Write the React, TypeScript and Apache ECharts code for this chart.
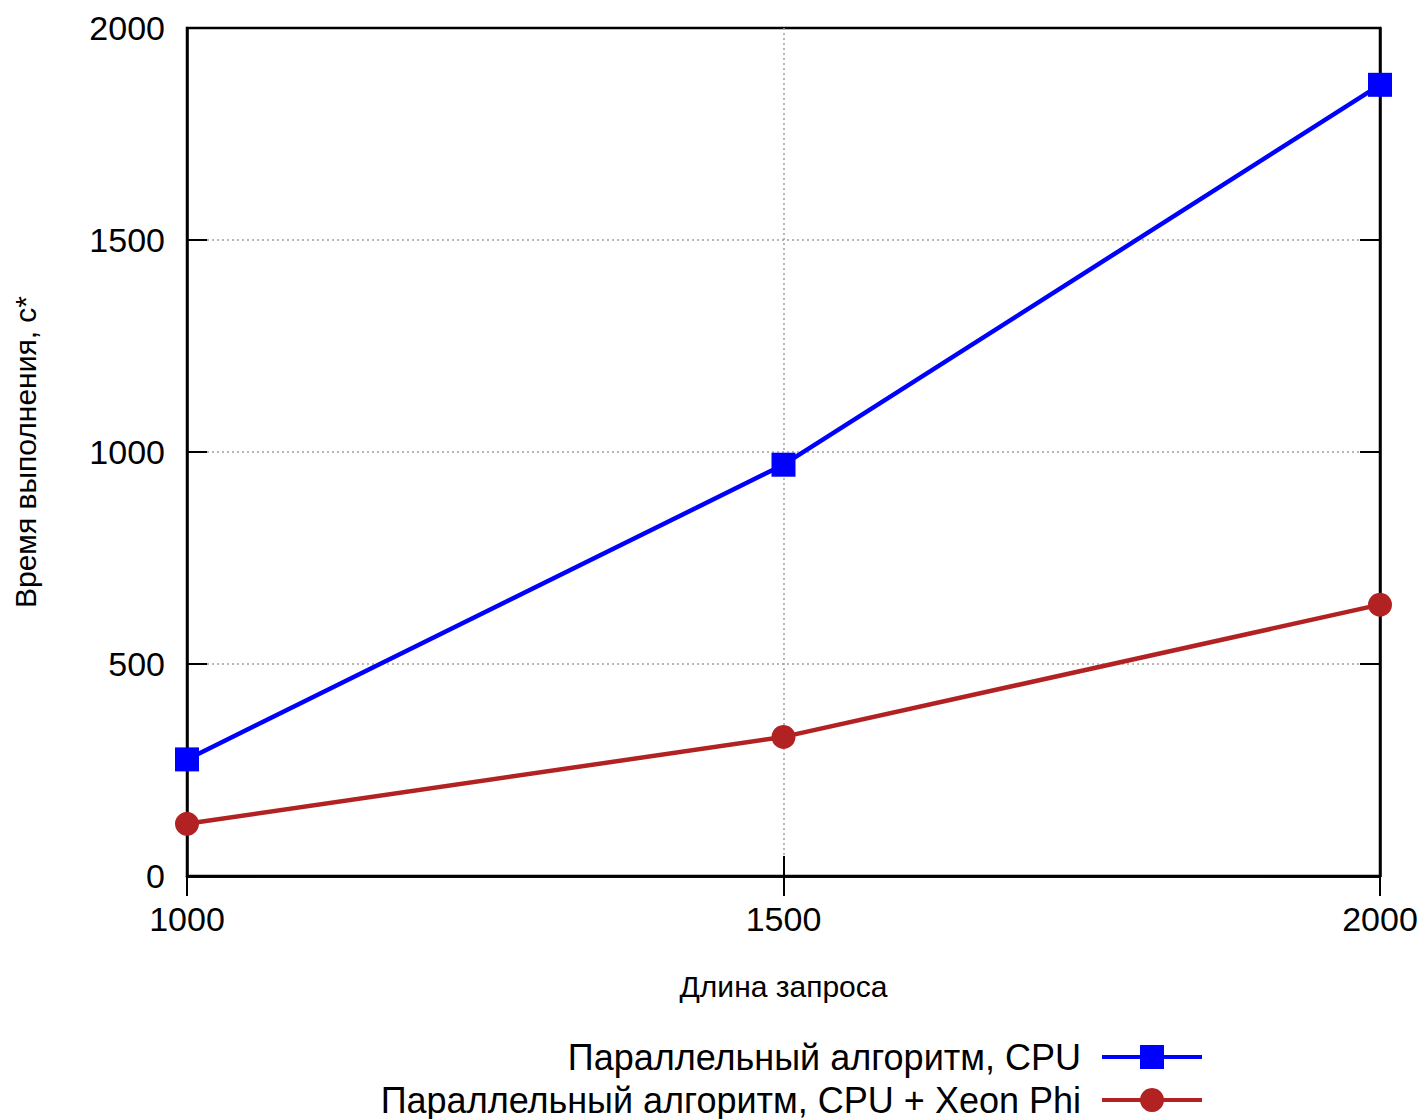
import React, { useEffect, useRef } from "react";
import * as echarts from "echarts";

const queryLengths = [1000, 1500, 2000];
const cpuTimes = [275, 970, 1866];
const cpuPhiTimes = [123, 328, 640];
const seriesNames = ["Параллельный алгоритм, CPU", "Параллельный алгоритм, CPU + Xeon Phi"];
const xTitle = "Длина запроса";
const yTitle = "Время выполнения, с*";

const FONT = "'Liberation Sans', Arial, sans-serif";

export default function App() {
  const ref = useRef<HTMLDivElement>(null);
  useEffect(() => {
    if (!ref.current) return;
    const chart = echarts.init(ref.current, undefined, { renderer: "svg" });
    const gridLine = {
      show: true, showMinLine: false, showMaxLine: false,
      lineStyle: { color: "#a0a0a0", width: 1.5, type: [2, 3] as any },
    };
    const tickIn = { show: true, inside: true, length: 20, lineStyle: { color: "#000", width: 2 } };
    const legendBase = {
      right: 219, align: "right", orient: "horizontal", padding: 0,
      itemWidth: 100, itemHeight: 30, itemGap: 0,
      lineStyle: { width: 4 },
      textStyle: { color: "#000", fontSize: 36, lineHeight: 36, fontFamily: FONT, padding: [0, 16, 0, 0] },
    };
    chart.setOption({
      animation: false,
      backgroundColor: "#fff",
      textStyle: { fontFamily: FONT },
      grid: {
        left: 187, right: 43, top: 28, bottom: 243,
        show: true, borderColor: "#000", borderWidth: 2.5, backgroundColor: "transparent",
      },
      xAxis: [
        {
          type: "value", min: 1000, max: 2000, interval: 500, position: "bottom",
          axisLine: { show: true, lineStyle: { color: "#000", width: 2.5 } },
          axisTick: tickIn,
          splitLine: gridLine,
          axisLabel: { color: "#000", fontSize: 34, margin: 26, fontFamily: FONT, formatter: (v: number) => String(v) },
          name: xTitle, nameLocation: "middle", nameGap: 95,
          nameTextStyle: { color: "#000", fontSize: 30, fontFamily: FONT },
        },
        {
          type: "value", min: 1000, max: 2000, interval: 500, position: "top",
          axisLine: { show: true, lineStyle: { color: "#000", width: 2.5 } },
          axisTick: tickIn, axisLabel: { show: false }, splitLine: { show: false },
        },
      ],
      yAxis: [
        {
          type: "value", min: 0, max: 2000, interval: 500, position: "left",
          axisLine: { show: true, lineStyle: { color: "#000", width: 2.5 } },
          axisTick: tickIn,
          splitLine: gridLine,
          axisLabel: { color: "#000", fontSize: 34, margin: 22, fontFamily: FONT, formatter: (v: number) => String(v) },
          name: yTitle, nameLocation: "middle", nameGap: 147,
          nameTextStyle: { color: "#000", fontSize: 30, fontFamily: FONT },
        },
        {
          type: "value", min: 0, max: 2000, interval: 500, position: "right",
          axisLine: { show: true, lineStyle: { color: "#000", width: 2.5 } },
          axisTick: tickIn, axisLabel: { show: false }, splitLine: { show: false },
        },
      ],
      legend: [
        { ...legendBase, data: [seriesNames[0]], top: 1039 },
        { ...legendBase, data: [seriesNames[1]], top: 1082 },
      ],
      series: [
        {
          name: seriesNames[0], type: "line",
          data: queryLengths.map((x, i) => [x, cpuTimes[i]]),
          symbol: "rect", symbolSize: 24,
          lineStyle: { color: "#0000ff", width: 4.5 },
          itemStyle: { color: "#0000ff" },
          z: 3,
        },
        {
          name: seriesNames[1], type: "line",
          data: queryLengths.map((x, i) => [x, cpuPhiTimes[i]]),
          symbol: "circle", symbolSize: 24,
          lineStyle: { color: "#b22222", width: 4.5 },
          itemStyle: { color: "#b22222" },
          z: 3,
        },
      ],
    });
    return () => chart.dispose();
  }, []);
  return <div ref={ref} style={{ width: 1423, height: 1119, position: "absolute", left: 0, top: 0 }} />;
}
